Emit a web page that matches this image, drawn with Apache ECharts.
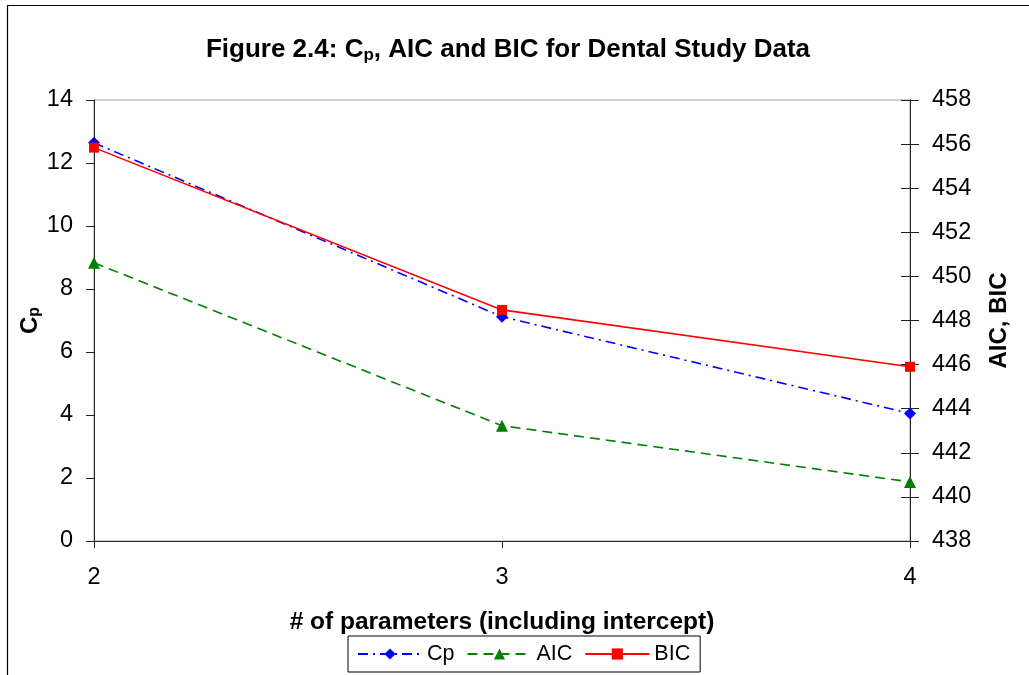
<!DOCTYPE html>
<html>
<head>
<meta charset="utf-8">
<script src="https://cdn.jsdelivr.net/npm/echarts@6/dist/echarts.min.js"></script>
<style>
  html, body { margin: 0; padding: 0; background: #fff; }
  #chart { width: 1029px; height: 675px; }
</style>
</head>
<body>
<div id="chart"></div>
<script>
// Number of parameters in the model (including intercept)
const paramCounts = ['2', '3', '4'];
// Mallows' Cp (left axis)
const cpValues = [12.64, 7.12, 4.05];
// AIC and BIC (right axis)
const aicValues = [450.62, 443.23, 440.68];
const bicValues = [455.84, 448.48, 445.9];
// Axis ranges
const cpAxis = { min: 0, max: 14, interval: 2 };
const icAxis = { min: 438, max: 458, interval: 2 };

const FONT = '"Liberation Sans", Arial, sans-serif';
const AXIS_COLOR = '#222';
const TICK_FONT = 23.5;

const chart = echarts.init(document.getElementById('chart'), null, { renderer: 'canvas' });

const rightAxisBase = {
  type: 'value',
  position: 'right',
  min: icAxis.min,
  max: icAxis.max,
  interval: icAxis.interval,
  splitLine: { show: false },
  axisLine: { show: true, lineStyle: { color: AXIS_COLOR, width: 1 } }
};

chart.setOption({
  animation: false,
  backgroundColor: '#fff',
  textStyle: { fontFamily: FONT },
  title: {
    text: 'Figure 2.4: C{sub|p}, AIC and BIC for Dental Study Data',
    left: 503,
    top: 31,
    textAlign: 'center',
    textStyle: {
      fontFamily: FONT,
      fontSize: 26,
      fontWeight: 'bold',
      color: '#000',
      rich: {
        sub: { fontFamily: FONT, fontSize: 17, fontWeight: 'bold', color: '#000', padding: [11, 0, 0, 0] }
      }
    }
  },
  graphic: [
    {
      type: 'polyline',
      shape: { points: [[7.5, 675], [7.5, 5.5], [1029, 5.5]] },
      style: { stroke: '#000', lineWidth: 1.2, fill: null },
      silent: true
    }
  ],
  grid: {
    left: 94, right: 119, top: 100, bottom: 134,
    show: true, borderColor: '#a0a0a0', borderWidth: 1, backgroundColor: '#fff'
  },
  legend: {
    left: 348,
    top: 636,
    padding: [7, 10, 7, 9],
    borderColor: '#000',
    borderWidth: 1,
    itemGap: 12,
    itemWidth: 64,
    itemHeight: 14,
    textStyle: { fontFamily: FONT, fontSize: 21.5, color: '#000' },
    data: ['Cp', 'AIC', 'BIC']
  },
  xAxis: {
    type: 'category',
    data: paramCounts,
    boundaryGap: false,
    name: '# of parameters (including intercept)',
    nameLocation: 'middle',
    nameGap: 69,
    nameMoveOverlap: false,
    nameTextStyle: { fontFamily: FONT, fontSize: 24.5, fontWeight: 'bold', color: '#000' },
    axisLine: { show: true, lineStyle: { color: AXIS_COLOR, width: 1 } },
    axisTick: { show: true, alignWithLabel: true, length: 7, lineStyle: { color: AXIS_COLOR } },
    axisLabel: { fontFamily: FONT, fontSize: TICK_FONT, color: '#000', margin: 25 },
    splitLine: { show: false }
  },
  yAxis: [
    {
      type: 'value',
      position: 'left',
      min: cpAxis.min,
      max: cpAxis.max,
      interval: cpAxis.interval,
      name: 'C{sub|p}',
      nameLocation: 'middle',
      nameGap: 51,
      nameMoveOverlap: false,
      nameRotate: 90,
      nameTextStyle: {
        fontFamily: FONT, fontSize: 24, fontWeight: 'bold', color: '#000',
        rich: { sub: { fontFamily: FONT, fontSize: 16, fontWeight: 'bold', color: '#000', padding: [9, 0, 0, 0] } }
      },
      axisLine: { show: true, lineStyle: { color: AXIS_COLOR, width: 1 } },
      axisTick: { show: true, length: 8, lineStyle: { color: AXIS_COLOR } },
      axisLabel: { fontFamily: FONT, fontSize: TICK_FONT, color: '#000', margin: 21 },
      splitLine: { show: false }
    },
    Object.assign({}, rightAxisBase, {
      name: 'AIC, BIC',
      nameLocation: 'middle',
      nameGap: 77,
      nameMoveOverlap: false,
      nameRotate: 90,
      nameTextStyle: { fontFamily: FONT, fontSize: 24, fontWeight: 'bold', color: '#000' },
      axisTick: { show: true, length: 9, lineStyle: { color: AXIS_COLOR } },
      axisLabel: { fontFamily: FONT, fontSize: TICK_FONT, color: '#000', margin: 22 }
    }),
    // inner half of the crossing tick marks on the right axis
    Object.assign({}, rightAxisBase, {
      axisTick: { show: true, inside: true, length: 9, lineStyle: { color: AXIS_COLOR } },
      axisLabel: { show: false }
    })
  ],
  series: [
    {
      name: 'Cp',
      type: 'line',
      yAxisIndex: 0,
      data: cpValues,
      symbol: 'diamond',
      symbolSize: 12,
      itemStyle: { color: '#0000ff' },
      lineStyle: { color: '#0000ff', width: 1.6, type: [10, 5, 2, 5] },
      z: 3
    },
    {
      name: 'AIC',
      type: 'line',
      yAxisIndex: 1,
      data: aicValues,
      symbol: 'triangle',
      symbolSize: 12,
      itemStyle: { color: '#008000' },
      lineStyle: { color: '#008000', width: 1.6, type: [10, 6] },
      z: 2
    },
    {
      name: 'BIC',
      type: 'line',
      yAxisIndex: 1,
      data: bicValues,
      symbol: 'rect',
      symbolSize: 10,
      itemStyle: { color: '#ff0000' },
      lineStyle: { color: '#ff0000', width: 1.6 },
      z: 4
    }
  ]
});
</script>
</body>
</html>
